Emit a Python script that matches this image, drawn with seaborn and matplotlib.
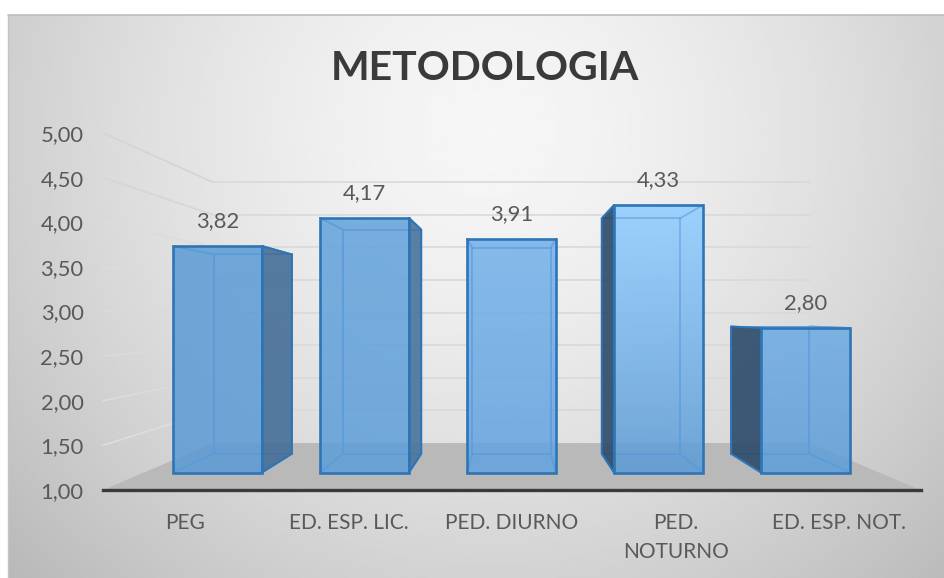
import numpy as np
import matplotlib
matplotlib.use("Agg")
import matplotlib.pyplot as plt
from matplotlib.patches import Polygon, Rectangle
from matplotlib.colors import to_rgba
import seaborn as sns

# ---- data ----
categories = ["PEG", "ED. ESP. LIC.", "PED. DIURNO", "PED.\nNOTURNO", "ED. ESP. NOT."]
values = [3.82, 4.17, 3.91, 4.33, 2.80]
y_ticks = [1.0, 1.5, 2.0, 2.5, 3.0, 3.5, 4.0, 4.5, 5.0]
title = "METODOLOGIA"

# ---- style ----
W, H = 945, 578
FONT = "Lato"
TEXT = "#595959"
EDGE = "#2E75B6"
INNER = "#5C9CDA"
bar_colors = ["#5B9BD5", "#5E9FD9", "#62A2DE", "#5B9BD5", "#5E9ED9"]
sheen = [0.0, 0.08, 0.35, 0.95, 0.25]
side_colors = ["#456E98", "#4A739D", None, "#2B4A6A", "#2B4A6A"]
side_of_bar = ["right", "right", None, "left", "left"]
left_grid_colors = ["#DEDEDE", "#DCDCDC", "#DADADA", "#DADADA", "#DCDCDC", "#DCDCDC", "#D6D6D6", "#D4D4D4"]

S_AXIS, S_BACK, S_WALL = 1.111, 0.88, 0.812   # perspective scales of the depth planes
VX, VY = 2.0, 2.95                            # vanishing point in data units
BASE = y_ticks[0]


def rect_px(x0, x1, y_top, y_bot):
    return [x0 / W, 1 - y_bot / H, (x1 - x0) / W, (y_bot - y_top) / H]


def proj(x, v, s):
    return VX + s * (x - VX), VY + s * (v - VY)


sns.set_theme(style="white")
plt.rcParams["font.family"] = [FONT, "DejaVu Sans"]
fig = plt.figure(figsize=(W / 100, H / 100), dpi=100, facecolor="white")

# background panel with soft radial shading
ax_bg = fig.add_axes(rect_px(8, W, 15, H), zorder=0)
yy, xx = np.mgrid[15:H:200j, 8:W:300j]
dist = np.hypot((xx - 490) / 450, (yy - 130) / 440)
ax_bg.imshow(0.965 - 0.135 * dist ** 1.5, cmap="gray", vmin=0, vmax=1, aspect="auto",
             extent=(8, W, H, 15), interpolation="bilinear")
ax_bg.axis("off")
ax_bg.plot([8, W], [15, 15], color="#BDBDBD", lw=1.2, clip_on=False)
ax_bg.plot([8, 8], [15, H], color="#C4C4C4", lw=1.0, clip_on=False)
ax_bg.set_xlim(8, W)
ax_bg.set_ylim(H, 15)

fig.text(485 / W, 1 - 69 / H, title, ha="center", va="center", fontsize=29.5,
         fontweight="bold", color="#3A3A3A", family=[FONT, "DejaVu Sans"], zorder=5)

# value axis plane (nearest plane): carries the tick labels and the thick base line
ax_val = fig.add_axes(rect_px(103, 921, 133, 490), zorder=3)
ax_val.patch.set_alpha(0)
ax_val.set_xlim(-0.5, 4.5)
ax_val.set_ylim(y_ticks[0], y_ticks[-1])
ax_val.set_yticks(y_ticks)
ax_val.set_yticklabels([f"{t:.2f}".replace(".", ",") for t in y_ticks], fontsize=15.8, color=TEXT)
ax_val.set_xticks(range(len(categories)))
ax_val.set_xticklabels(categories, fontsize=15, color=TEXT, linespacing=1.55)
ax_val.tick_params(axis="y", length=0, pad=14)
ax_val.tick_params(axis="x", length=0, pad=16.5)
sns.despine(ax=ax_val, left=True, top=True, right=True)
ax_val.spines["bottom"].set_color("#3A3A3A")
ax_val.spines["bottom"].set_linewidth(2.4)

# front plane of the bars
ax = fig.add_axes(rect_px(144, 879, 472.5 - 4 * 80.3, 472.5), zorder=2)
ax.patch.set_alpha(0)
heights = [v - BASE for v in values]
sns.barplot(x=categories, y=heights, hue=categories, palette=bar_colors, legend=False,
            width=0.605, bottom=BASE, ax=ax, zorder=4, saturation=1)
ax.set_xlim(-0.5, 4.5)
ax.set_ylim(y_ticks[0], y_ticks[-1])
ax.set_xlabel("")
ax.set_ylabel("")
ax.set_xticks([])
ax.set_yticks([])
ax.grid(False)
for s in ax.spines.values():
    s.set_visible(False)

x_lo, x_hi = ax.get_xlim()

# floor
floor = [proj(x_lo, BASE, S_AXIS), proj(x_lo, BASE, S_WALL), proj(x_hi, BASE, S_WALL), proj(x_hi, BASE, S_AXIS)]
ax.add_patch(Polygon(floor, closed=True, fc="#B9B9B9", ec="none", zorder=1, clip_on=False))

# gridlines: left wall + back wall
for t, col in zip(y_ticks[1:], left_grid_colors):
    p0, p1, p2 = proj(x_lo, t, S_AXIS), proj(x_lo, t, S_WALL), proj(x_hi, t, S_WALL)
    ax.plot([p0[0], p1[0]], [p0[1], p1[1]], color=col, lw=1.2, zorder=1, clip_on=False)
    ax.plot([p1[0], p2[0]], [p1[1], p2[1]], color="#D9D9D9", lw=1.2, zorder=1, clip_on=False)

# bars: faces in depth, derived from each seaborn bar
bars = [p for p in ax.patches if isinstance(p, Rectangle) and p.get_width() > 0 and p.get_zorder() == 4]
bars = sorted(bars, key=lambda p: p.get_x())
grad = np.linspace(1, 0, 128)
for bar, v, face, sh, side, scol in zip(bars, values, bar_colors, sheen, side_of_bar, side_colors):
    x0, x1 = bar.get_x(), bar.get_x() + bar.get_width()
    y0, y1 = bar.get_y(), bar.get_y() + bar.get_height()
    bar.set_facecolor(to_rgba(face, 0.85))
    bar.set_edgecolor("none")

    bl, br = proj(x0, y0, S_BACK), proj(x1, y0, S_BACK)
    tl, tr = proj(x0, y1, S_BACK), proj(x1, y1, S_BACK)

    # lines of the far side, seen through the bar
    lines = [(bl, br), (tl, tr), (bl, tl), (br, tr),
             ((x0, y0), bl), ((x1, y0), br), ((x0, y1), tl), ((x1, y1), tr)]
    for a, b in lines:
        ax.plot([a[0], b[0]], [a[1], b[1]], color=INNER, lw=1.3, zorder=3.5, clip_on=False,
                solid_capstyle="round")
        ax.plot([a[0], b[0]], [a[1], b[1]], color=INNER, lw=1.2, alpha=0.6, zorder=4.6, clip_on=False)

    # dark visible side
    if side == "right":
        poly = [(x1, y0), br, tr, (x1, y1)]
    elif side == "left":
        poly = [(x0, y0), bl, tl, (x0, y1)]
    else:
        poly = None
    if poly:
        ax.add_patch(Polygon(poly, closed=True, fc=to_rgba(scol, 0.9), ec=EDGE, lw=1.4,
                             zorder=4.7, clip_on=False, joinstyle="round"))

    # light vertical sheen
    if sh > 0:
        rgba = np.zeros((128, 1, 4))
        rgba[..., :3] = to_rgba("#9FD3FF")[:3]
        rgba[:, 0, 3] = grad * sh
        im = ax.imshow(rgba, extent=(x0, x1, y0, y1), origin="upper", aspect="auto", zorder=4.5,
                       interpolation="bilinear")
        im.set_clip_path(Rectangle((x0, y0), x1 - x0, y1 - y0, transform=ax.transData))

    # front outline
    ax.add_patch(Rectangle((x0, y0), x1 - x0, y1 - y0, fill=False, ec=EDGE, lw=1.9,
                           zorder=5, clip_on=False))

ax.set_xlim(-0.5, 4.5)
ax.set_ylim(y_ticks[0], y_ticks[-1])

# data labels
for bar, v in zip(bars, values):
    ax.annotate(f"{v:.2f}".replace(".", ","),
                (bar.get_x() + bar.get_width() / 2, bar.get_y() + bar.get_height()),
                xytext=(0, 18), textcoords="offset points", ha="center", va="center",
                fontsize=15.8, color=TEXT, zorder=7, annotation_clip=False)

fig.savefig("out.png", dpi=100, facecolor="white")
